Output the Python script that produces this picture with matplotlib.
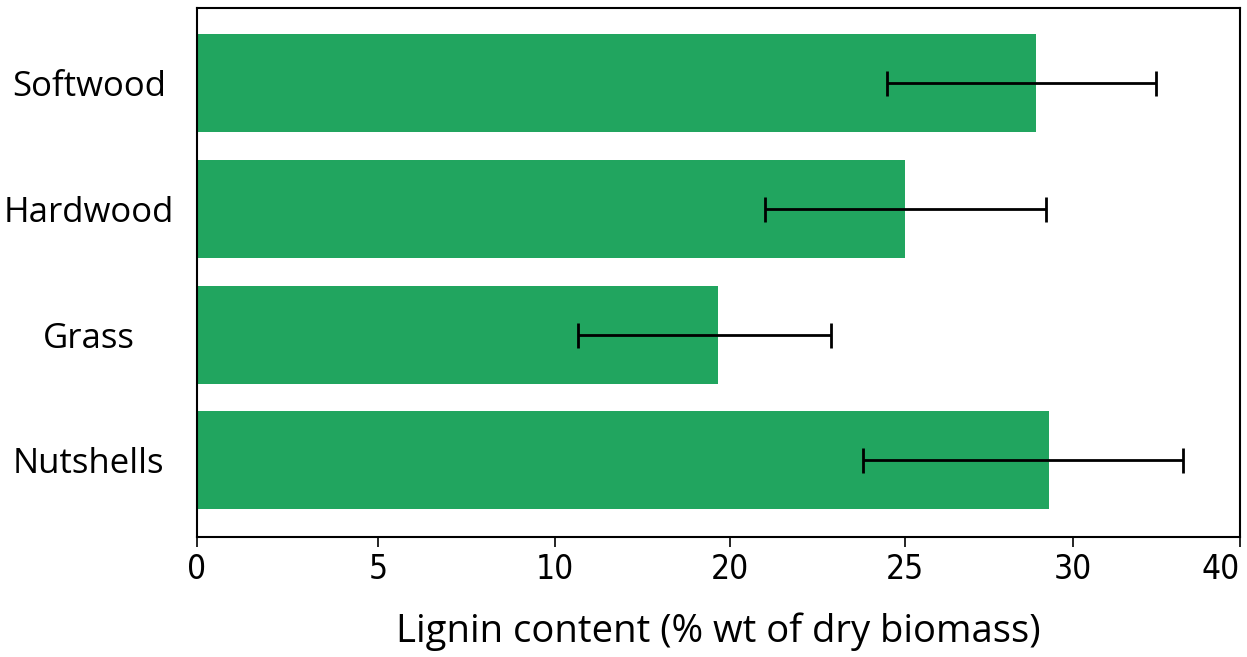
import numpy as np
import matplotlib.pyplot as plt

# values (lignin, % wt of dry biomass)
categories = ['Softwood', 'Hardwood', 'Grass', 'Nutshells']
lignin = [28.9, 25.0, 19.3, 29.3]
err_low = [24.5, 21.0, 11.3, 23.8]
err_high = [35.0, 29.2, 22.9, 36.6]

# the source axis is not linear: these labels sit (almost) evenly spaced
tick_values = [0, 5, 10, 20, 25, 30, 40]
tick_spots = [0, 181, 358, 533, 708, 876, 1043]


def forward(x):
    return np.interp(x, tick_values, tick_spots)


def inverse(x):
    return np.interp(x, tick_spots, tick_values)


lignin = np.array(lignin)
xerr = [lignin - np.array(err_low), np.array(err_high) - lignin]
y = np.arange(len(categories))

fig = plt.figure(figsize=(12.47, 6.57), dpi=100)
ax = fig.add_axes([0.158, 0.183, 0.836, 0.805])
ax.set_xscale('function', functions=(forward, inverse))

ax.barh(y, lignin, height=0.78, color='#21a55f')
ax.errorbar(lignin, y, xerr=xerr, fmt='none', ecolor='black',
            elinewidth=2, capsize=9, capthick=2)

ax.set_xlim(0, 40)
ax.set_ylim(3.61, -0.6)
ax.set_xticks(tick_values)
ax.set_xticklabels([str(v) for v in tick_values], fontsize=24,
                   fontstretch='condensed')
ax.get_xticklabels()[-1].set_ha('right')
ax.set_yticks(y)
ax.set_yticklabels(categories, fontsize=25, family='Open Sans')
for lbl in ax.get_yticklabels():
    lbl.set_ha('center')
ax.tick_params(axis='y', length=0, pad=78)
ax.tick_params(axis='x', length=7, width=1.2, pad=5)
for s in ax.spines.values():
    s.set_linewidth(1.5)

ax.set_xlabel('Lignin content (% wt of dry biomass)', fontsize=27.5,
              family='Open Sans', labelpad=19)

fig.savefig('out.png', dpi=100)
